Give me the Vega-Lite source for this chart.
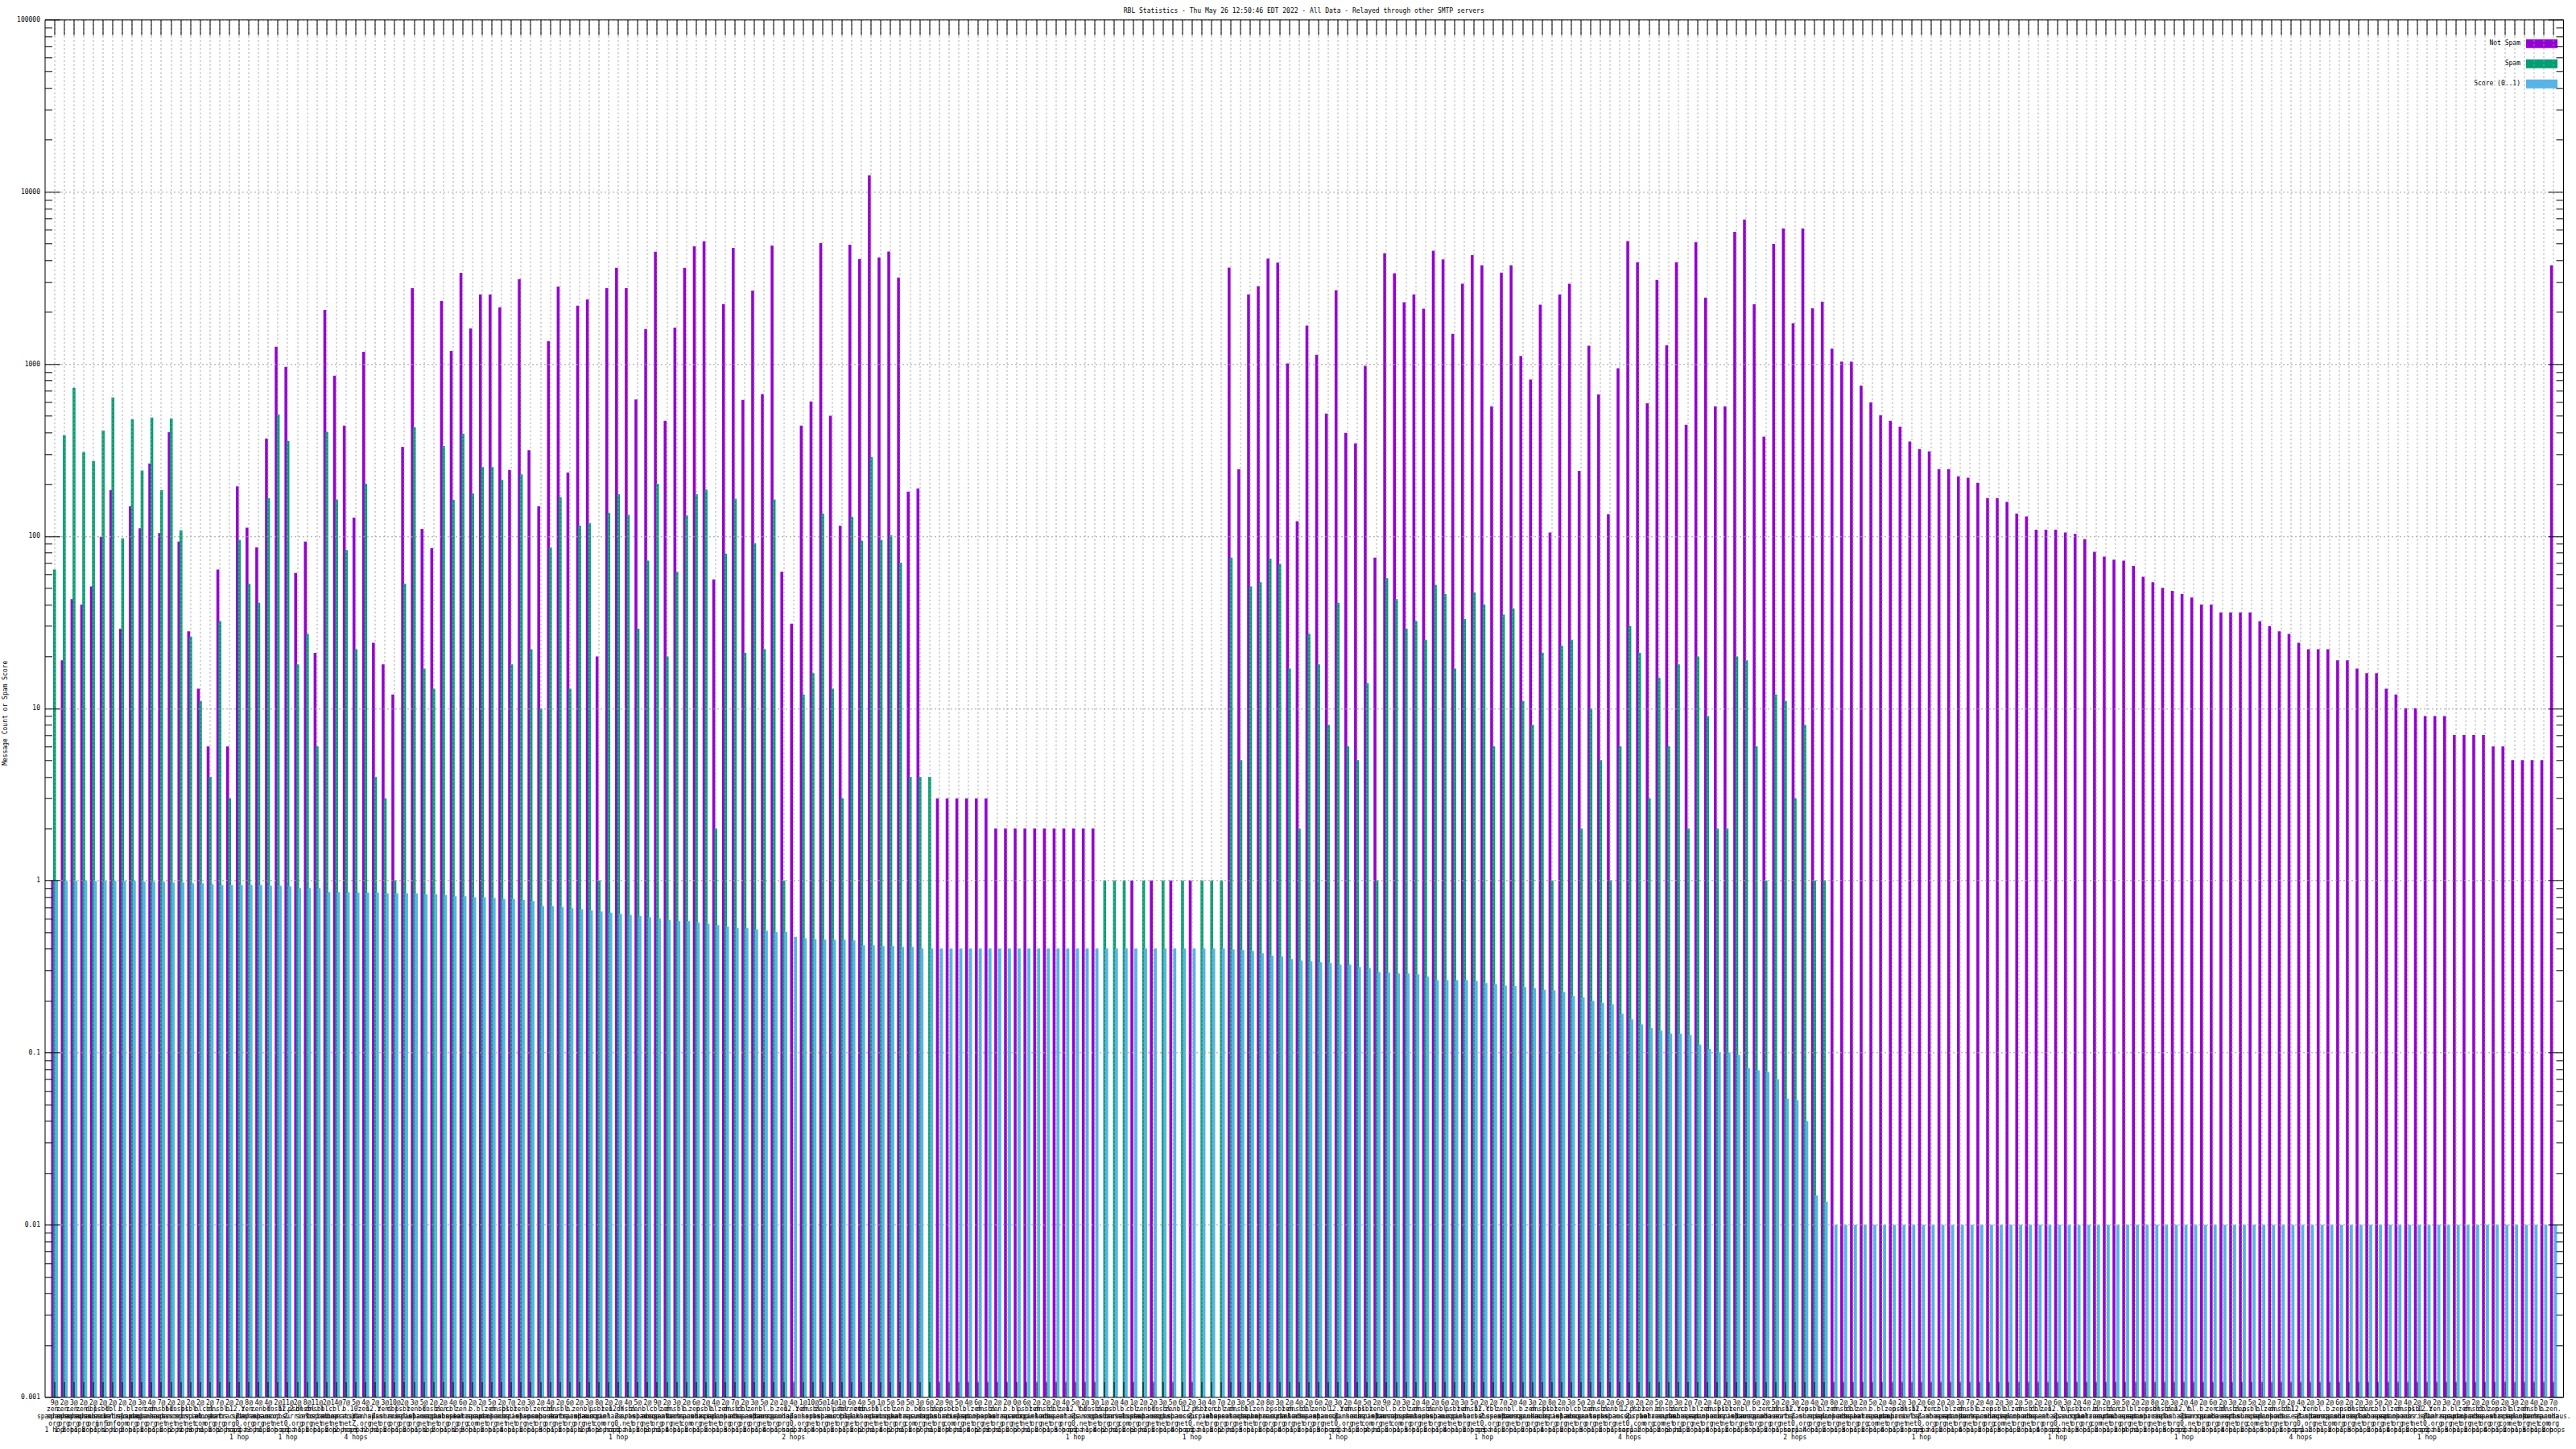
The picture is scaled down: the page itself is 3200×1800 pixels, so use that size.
{"$schema":"https://vega.github.io/schema/vega-lite/v6.json","width":3128.5,"height":1711,"autosize":{"type":"none"},"padding":{"left":55.5,"top":24.3,"right":16,"bottom":64.7},"background":"white","view":{"stroke":null},
"title":{"text":"RBL Statistics - Thu May 26 12:50:46 EDT 2022 - All Data - Relayed through other SMTP servers","font":"DejaVu Sans Mono","fontSize":8,"fontWeight":"normal","color":"black","anchor":"middle","offset":2},
"data":{"values":[
{"host":"000|9@|zen.|spamhaus.|org|1 hop","ham":1,"spam":64,"score":1},
{"host":"001|2@|zen.|spamhaus.|org|1 hop","ham":19,"spam":386,"score":0.993},
{"host":"002|3@|zen.|spamhaus.|org|2 hops","ham":43,"spam":726,"score":0.993},
{"host":"003|2@|zen.|spamhaus.|org|1 hop","ham":40,"spam":307,"score":0.993},
{"host":"004|2@|dbl.|spamhaus.|org|2 hops","ham":51,"spam":273,"score":0.993},
{"host":"005|2@|psbl.|surriel.|info|1 hop","ham":99,"spam":411,"score":0.993},
{"host":"006|2@|dbl.|surriel.|info|1 hop","ham":185,"spam":638,"score":0.993},
{"host":"007|2@|b.|barracuda.|com|1 hop","ham":29,"spam":97,"score":0.993},
{"host":"008|2@|bl.|spamcop.|org|2 hops","ham":149,"spam":477,"score":0.993},
{"host":"009|3@|zen.|spamhaus.|org|1 hop","ham":111,"spam":240,"score":0.982},
{"host":"010|4@|zen.|spamhaus.|org|2 hops","ham":264,"spam":488,"score":0.982},
{"host":"011|7@|dnsbl.|sorbs.|net|1 hop","ham":104,"spam":185,"score":0.982},
{"host":"012|2@|bl.|spamcop.|net|2 hops","ham":402,"spam":483,"score":0.972},
{"host":"013|2@|dnsbl.|sorbs.|net|2 hops","ham":93,"spam":108,"score":0.972},
{"host":"014|2@|psbl.|surriel.|net|2 hops","ham":28,"spam":26,"score":0.961},
{"host":"015|2@|bl.|spamcop.|com|3 hops","ham":13,"spam":11,"score":0.961},
{"host":"016|2@|cbl.|abuseat.|org|1 hop","ham":6,"spam":4,"score":0.951},
{"host":"017|7@|dnsbl.|sorbs.|org|2 hops","ham":64,"spam":32,"score":0.941},
{"host":"018|2@|b.|barracuda.|org|2 hops","ham":6,"spam":3,"score":0.941},
{"host":"019|2@|12.Y.|Z.|0.|arpa|1 hop","ham":194,"spam":95,"score":0.941},
{"host":"020|8@|zen.|spamhaus.|org|2 hops","ham":112,"spam":53,"score":0.941},
{"host":"021|4@|zen.|spamhaus.|org|3 hops","ham":86,"spam":41,"score":0.941},
{"host":"022|4@|bl.|spamcop.|net|1 hop","ham":369,"spam":166,"score":0.931},
{"host":"023|2@|dnsbl.|sorbs.|net|2 hops","ham":1259,"spam":509,"score":0.931},
{"host":"024|11@|12.2.|Z.|0.|arpa|1 hop","ham":961,"spam":357,"score":0.921},
{"host":"025|2@|psbl.|surriel.|org|2 hops","ham":61,"spam":18,"score":0.901},
{"host":"026|8@|dnsbl.|sorbs.|org|1 hop","ham":93,"spam":27,"score":0.901},
{"host":"027|11@|dnsbl.|sorbs.|net|2 hops","ham":21,"spam":6,"score":0.901},
{"host":"028|2@|bl.|spamcop.|net|1 hop","ham":2060,"spam":402,"score":0.854},
{"host":"029|14@|cbl.|abuseat.|net|2 hops","ham":853,"spam":163,"score":0.854},
{"host":"030|7@|b.|barracuda.|net|2 hops","ham":438,"spam":83,"score":0.854},
{"host":"031|5@|10.|Y.|Z.|arpa|4 hops","ham":128,"spam":22,"score":0.85},
{"host":"032|4@|zen.|spamhaus.|org|3 hops","ham":1175,"spam":201,"score":0.85},
{"host":"033|2@|12.Y.|Z.|net|2 hops","ham":24,"spam":4,"score":0.85},
{"host":"034|3@|zen.|spamhaus.|org|1 hop","ham":18,"spam":3,"score":0.84},
{"host":"035|10@|dbl.|surriel.|org|2 hops","ham":12,"spam":1,"score":0.84},
{"host":"036|2@|psbl.|surriel.|org|1 hop","ham":330,"spam":53,"score":0.84},
{"host":"037|3@|zen.|spamhaus.|org|2 hops","ham":2754,"spam":430,"score":0.84},
{"host":"038|5@|bl.|spamcop.|net|1 hop","ham":110,"spam":17,"score":0.83},
{"host":"039|2@|dnsbl.|sorbs.|net|1 hop","ham":85,"spam":13,"score":0.83},
{"host":"040|2@|zen.|spamhaus.|org|2 hops","ham":2317,"spam":334,"score":0.82},
{"host":"041|4@|cbl.|abuseat.|org|1 hop","ham":1189,"spam":162,"score":0.81},
{"host":"042|6@|zen.|spamhaus.|org|1 hop","ham":3377,"spam":393,"score":0.81},
{"host":"043|2@|b.|barracuda.|com|3 hops","ham":1607,"spam":177,"score":0.8},
{"host":"044|2@|bl.|spamcop.|net|1 hop","ham":2535,"spam":252,"score":0.8},
{"host":"045|5@|zen.|spamhaus.|org|2 hops","ham":2535,"spam":252,"score":0.79},
{"host":"046|2@|dnsbl.|sorbs.|net|1 hop","ham":2133,"spam":212,"score":0.78},
{"host":"047|7@|psbl.|surriel.|net|4 hops","ham":242,"spam":18,"score":0.78},
{"host":"048|2@|zen.|spamhaus.|org|1 hop","ham":3105,"spam":228,"score":0.77},
{"host":"049|3@|bl.|spamcop.|net|2 hops","ham":315,"spam":22,"score":0.76},
{"host":"050|2@|zen.|spamhaus.|org|1 hop","ham":149,"spam":10,"score":0.71},
{"host":"051|4@|cbl.|abuseat.|org|3 hops","ham":1355,"spam":86,"score":0.71},
{"host":"052|2@|dnsbl.|sorbs.|net|1 hop","ham":2812,"spam":168,"score":0.7},
{"host":"053|6@|b.|barracuda.|org|2 hops","ham":234,"spam":13,"score":0.69},
{"host":"054|2@|zen.|spamhaus.|org|1 hop","ham":2178,"spam":115,"score":0.68},
{"host":"055|3@|bl.|spamcop.|net|1 hop","ham":2366,"spam":119,"score":0.67},
{"host":"056|8@|psbl.|surriel.|com|4 hops","ham":20,"spam":1,"score":0.66},
{"host":"057|2@|zen.|spamhaus.|org|3 hops","ham":2754,"spam":136,"score":0.65},
{"host":"058|2@|12.Y.|Z.|0.|arpa|1 hop","ham":3614,"spam":175,"score":0.64},
{"host":"059|4@|dnsbl.|sorbs.|net|2 hops","ham":2754,"spam":133,"score":0.63},
{"host":"060|5@|zen.|spamhaus.|org|1 hop","ham":622,"spam":29,"score":0.62},
{"host":"061|2@|bl.|spamcop.|net|2 hops","ham":1592,"spam":72,"score":0.61},
{"host":"062|9@|cbl.|abuseat.|org|3 hops","ham":4477,"spam":201,"score":0.6},
{"host":"063|2@|zen.|spamhaus.|org|1 hop","ham":467,"spam":20,"score":0.59},
{"host":"064|3@|dnsbl.|sorbs.|net|4 hops","ham":1626,"spam":62,"score":0.58},
{"host":"065|2@|b.|barracuda.|com|1 hop","ham":3614,"spam":132,"score":0.58},
{"host":"066|6@|zen.|spamhaus.|org|2 hops","ham":4816,"spam":175,"score":0.57},
{"host":"067|2@|psbl.|surriel.|net|1 hop","ham":5152,"spam":186,"score":0.56},
{"host":"068|4@|bl.|spamcop.|net|2 hops","ham":56,"spam":2,"score":0.55},
{"host":"069|2@|zen.|spamhaus.|org|1 hop","ham":2223,"spam":79,"score":0.54},
{"host":"070|7@|dnsbl.|sorbs.|org|3 hops","ham":4714,"spam":165,"score":0.53},
{"host":"071|2@|cbl.|abuseat.|org|1 hop","ham":618,"spam":21,"score":0.53},
{"host":"072|3@|zen.|spamhaus.|org|2 hops","ham":2665,"spam":91,"score":0.52},
{"host":"073|5@|bl.|spamcop.|net|1 hop","ham":668,"spam":22,"score":0.51},
{"host":"074|2@|b.|barracuda.|org|4 hops","ham":4875,"spam":163,"score":0.5},
{"host":"075|2@|zen.|spamhaus.|org|1 hop","ham":62,"spam":1,"score":0.5},
{"host":"076|4@|12.Y.|Z.|0.|arpa|2 hops","ham":31,"score":0.47},
{"host":"077|1@|zen.|spamhaus.|org|2 hops","ham":438,"spam":12,"score":0.462},
{"host":"078|10@|dnsbl.|sorbs.|net|1 hop","ham":605,"spam":16,"score":0.457},
{"host":"079|5@|zen.|spamhaus.|org|4 hops","ham":5035,"spam":135,"score":0.453},
{"host":"080|14@|bl.|spamcop.|net|1 hop","ham":499,"spam":13,"score":0.453},
{"host":"081|1@|psbl.|surriel.|org|2 hops","ham":115,"spam":3,"score":0.453},
{"host":"082|6@|hornet.|black.|net|1 hop","ham":4920,"spam":129,"score":0.448},
{"host":"083|4@|zen.|spamhaus.|org|2 hops","ham":4064,"spam":94,"score":0.42},
{"host":"084|5@|dnsbl.|sorbs.|net|2 hops","ham":12450,"spam":288,"score":0.42},
{"host":"085|1@|bl.|spamcop.|net|1 hop","ham":4155,"spam":95,"score":0.415},
{"host":"086|5@|cbl.|abuseat.|org|4 hops","ham":4487,"spam":101,"score":0.415},
{"host":"087|5@|zen.|spamhaus.|org|2 hops","ham":3175,"spam":70,"score":0.411},
{"host":"088|5@|b.|barracuda.|com|1 hop","ham":181,"spam":4,"score":0.411},
{"host":"089|3@|bl.|spamcop.|org|2 hops","ham":189,"spam":4,"score":0.402},
{"host":"090|6@|dnsbl.|sorbs.|net|7 hops","spam":4,"score":0.402},
{"host":"091|2@|zen.|spamhaus.|org|1 hop","ham":3,"score":0.402},
{"host":"092|9@|psbl.|surriel.|com|2 hops","ham":3,"score":0.402},
{"host":"093|5@|cbl.|abuseat.|org|4 hops","ham":3,"score":0.402},
{"host":"094|4@|bl.|spamcop.|net|1 hop","ham":3,"score":0.402},
{"host":"095|6@|zen.|spamhaus.|org|4 hops","ham":3,"score":0.402},
{"host":"096|2@|dnsbl.|sorbs.|net|2 hops","ham":3,"score":0.402},
{"host":"097|2@|zen.|spamhaus.|org|3 hops","ham":2,"score":0.402},
{"host":"098|2@|b.|barracuda.|org|1 hop","ham":2,"score":0.402},
{"host":"099|0@|bl.|spamcop.|net|2 hops","ham":2,"score":0.402},
{"host":"100|6@|psbl.|surriel.|net|7 hops","ham":2,"score":0.402},
{"host":"101|2@|zen.|spamhaus.|org|1 hop","ham":2,"score":0.402},
{"host":"102|2@|dnsbl.|sorbs.|net|2 hops","ham":2,"score":0.402},
{"host":"103|2@|cbl.|abuseat.|org|1 hop","ham":2,"score":0.402},
{"host":"104|4@|zen.|spamhaus.|org|3 hops","ham":2,"score":0.402},
{"host":"105|5@|12.Y.|Z.|0.|arpa|1 hop","ham":2,"score":0.402},
{"host":"106|2@|bl.|spamcop.|net|2 hops","ham":2,"score":0.402},
{"host":"107|3@|dnsbl.|sorbs.|net|1 hop","ham":2,"score":0.402},
{"host":"108|1@|zen.|spamhaus.|org|4 hops","spam":1,"score":0.402},
{"host":"109|2@|psbl.|surriel.|org|2 hops","spam":1,"score":0.402},
{"host":"110|4@|b.|barracuda.|com|1 hop","spam":1,"score":0.402},
{"host":"111|1@|cbl.|abuseat.|org|2 hops","ham":1,"score":0.402},
{"host":"112|2@|zen.|spamhaus.|org|3 hops","spam":1,"score":0.402},
{"host":"113|2@|bl.|spamcop.|net|1 hop","ham":1,"score":0.402},
{"host":"114|3@|dnsbl.|sorbs.|net|2 hops","spam":1,"score":0.402},
{"host":"115|5@|zen.|spamhaus.|org|1 hop","ham":1,"score":0.402},
{"host":"116|6@|bl.|spamcop.|net|4 hops","spam":1,"score":0.402},
{"host":"117|2@|12.Y.|Z.|0.|arpa|1 hop","ham":1,"score":0.402},
{"host":"118|3@|psbl.|surriel.|net|2 hops","spam":1,"score":0.402},
{"host":"119|4@|zen.|spamhaus.|org|1 hop","spam":1,"score":0.402},
{"host":"120|7@|cbl.|abuseat.|org|2 hops","spam":1,"score":0.402},
{"host":"121|2@|zen.|spamhaus.|org|2 hops","ham":3624,"spam":75,"score":0.398},
{"host":"122|3@|dnsbl.|sorbs.|net|1 hop","ham":244,"spam":5,"score":0.394},
{"host":"123|5@|bl.|spamcop.|net|3 hops","ham":2535,"spam":51,"score":0.389},
{"host":"124|2@|zen.|spamhaus.|org|1 hop","ham":2831,"spam":54,"score":0.377},
{"host":"125|8@|b.|barracuda.|org|2 hops","ham":4093,"spam":74,"score":0.365},
{"host":"126|3@|psbl.|surriel.|org|1 hop","ham":3873,"spam":69,"score":0.361},
{"host":"127|2@|zen.|spamhaus.|org|4 hops","ham":1005,"spam":17,"score":0.35},
{"host":"128|4@|dnsbl.|sorbs.|net|1 hop","ham":122,"spam":2,"score":0.342},
{"host":"129|2@|cbl.|abuseat.|org|2 hops","ham":1667,"spam":27,"score":0.339},
{"host":"130|6@|zen.|spamhaus.|org|1 hop","ham":1129,"spam":18,"score":0.335},
{"host":"131|2@|bl.|spamcop.|net|3 hops","ham":514,"spam":8,"score":0.331},
{"host":"132|3@|12.Y.|Z.|0.|arpa|1 hop","ham":2679,"spam":41,"score":0.324},
{"host":"133|2@|zen.|spamhaus.|org|2 hops","ham":397,"spam":6,"score":0.324},
{"host":"134|4@|dnsbl.|sorbs.|net|1 hop","ham":346,"spam":5,"score":0.314},
{"host":"135|5@|psbl.|surriel.|com|2 hops","ham":973,"spam":14,"score":0.31},
{"host":"136|2@|zen.|spamhaus.|org|4 hops","ham":75,"spam":1,"score":0.294},
{"host":"137|9@|bl.|spamcop.|net|1 hop","ham":4392,"spam":57,"score":0.291},
{"host":"138|2@|b.|barracuda.|com|2 hops","ham":3357,"spam":43,"score":0.288},
{"host":"139|3@|cbl.|abuseat.|org|1 hop","ham":2280,"spam":29,"score":0.288},
{"host":"140|2@|zen.|spamhaus.|org|3 hops","ham":2535,"spam":32,"score":0.285},
{"host":"141|4@|dnsbl.|sorbs.|net|1 hop","ham":2089,"spam":25,"score":0.276},
{"host":"142|2@|zen.|spamhaus.|org|2 hops","ham":4539,"spam":52,"score":0.264},
{"host":"143|6@|bl.|spamcop.|net|1 hop","ham":4046,"spam":46,"score":0.264},
{"host":"144|2@|psbl.|surriel.|net|4 hops","ham":1493,"spam":17,"score":0.264},
{"host":"145|3@|zen.|spamhaus.|org|1 hop","ham":2924,"spam":33,"score":0.264},
{"host":"146|5@|dnsbl.|sorbs.|net|2 hops","ham":4276,"spam":47,"score":0.261},
{"host":"147|2@|12.Y.|Z.|0.|arpa|1 hop","ham":3740,"spam":40,"score":0.253},
{"host":"148|2@|cbl.|abuseat.|org|3 hops","ham":567,"spam":6,"score":0.25},
{"host":"149|7@|zen.|spamhaus.|org|1 hop","ham":3388,"spam":35,"score":0.245},
{"host":"150|2@|bl.|spamcop.|net|2 hops","ham":3740,"spam":38,"score":0.243},
{"host":"151|4@|b.|barracuda.|org|1 hop","ham":1110,"spam":11,"score":0.24},
{"host":"152|3@|zen.|spamhaus.|org|2 hops","ham":811,"spam":8,"score":0.237},
{"host":"153|2@|dnsbl.|sorbs.|net|1 hop","ham":2209,"spam":21,"score":0.232},
{"host":"154|8@|psbl.|surriel.|org|4 hops","ham":105,"spam":1,"score":0.23},
{"host":"155|2@|zen.|spamhaus.|org|1 hop","ham":2535,"spam":23,"score":0.225},
{"host":"156|3@|bl.|spamcop.|net|2 hops","ham":2924,"spam":25,"score":0.213},
{"host":"157|5@|cbl.|abuseat.|org|1 hop","ham":239,"spam":2,"score":0.209},
{"host":"158|2@|zen.|spamhaus.|org|3 hops","ham":1274,"spam":10,"score":0.2},
{"host":"159|4@|dnsbl.|sorbs.|net|1 hop","ham":665,"spam":5,"score":0.194},
{"host":"160|2@|zen.|spamhaus.|org|2 hops","ham":134,"spam":1,"score":0.191},
{"host":"161|6@|bl.|spamcop.|net|1 hop","ham":942,"spam":6,"score":0.168},
{"host":"162|3@|12.Y.|Z.|0.|arpa|4 hops","ham":5164,"spam":30,"score":0.156},
{"host":"163|2@|psbl.|surriel.|com|1 hop","ham":3890,"spam":21,"score":0.146},
{"host":"164|2@|zen.|spamhaus.|org|2 hops","ham":591,"spam":3,"score":0.139},
{"host":"165|5@|b.|barracuda.|com|1 hop","ham":3070,"spam":15,"score":0.134},
{"host":"166|2@|dnsbl.|sorbs.|net|2 hops","ham":1281,"spam":6,"score":0.129},
{"host":"167|3@|zen.|spamhaus.|org|3 hops","ham":3890,"spam":18,"score":0.129},
{"host":"168|2@|cbl.|abuseat.|org|1 hop","ham":443,"spam":2,"score":0.126},
{"host":"169|7@|bl.|spamcop.|net|2 hops","ham":5105,"spam":20,"score":0.111},
{"host":"170|2@|zen.|spamhaus.|org|1 hop","ham":2424,"spam":9,"score":0.105},
{"host":"171|4@|dnsbl.|sorbs.|net|4 hops","ham":567,"spam":2,"score":0.1},
{"host":"172|2@|psbl.|surriel.|net|1 hop","ham":567,"spam":2,"score":0.1},
{"host":"173|3@|zen.|spamhaus.|org|2 hops","ham":5843,"spam":20,"score":0.097},
{"host":"174|2@|bl.|spamcop.|net|1 hop","ham":6887,"spam":19,"score":0.081},
{"host":"175|6@|b.|barracuda.|org|3 hops","ham":2219,"spam":6,"score":0.079},
{"host":"176|2@|zen.|spamhaus.|org|1 hop","ham":378,"spam":1,"score":0.077},
{"host":"177|5@|cbl.|abuseat.|org|2 hops","ham":4973,"spam":12,"score":0.07},
{"host":"178|2@|dnsbl.|sorbs.|net|1 hop","ham":6124,"spam":11,"score":0.054},
{"host":"179|3@|12.Y.|Z.|0.|arpa|2 hops","ham":1722,"spam":3,"score":0.053},
{"host":"180|2@|zen.|spamhaus.|org|1 hop","ham":6124,"spam":8,"score":0.04},
{"host":"181|4@|psbl.|surriel.|org|4 hops","ham":2104,"spam":1,"score":0.0148},
{"host":"182|2@|bl.|spamcop.|net|1 hop","ham":2300,"spam":1,"score":0.0136},
{"host":"183|8@|zen.|spamhaus.|org|2 hops","ham":1229,"score":0.01},
{"host":"184|2@|dnsbl.|sorbs.|net|1 hop","ham":1030,"score":0.01},
{"host":"185|3@|cbl.|abuseat.|org|3 hops","ham":1030,"score":0.01},
{"host":"186|2@|zen.|spamhaus.|org|1 hop","ham":749,"score":0.01},
{"host":"187|5@|b.|barracuda.|com|2 hops","ham":598,"score":0.01},
{"host":"188|2@|bl.|spamcop.|net|1 hop","ham":504,"score":0.01},
{"host":"189|4@|zen.|spamhaus.|org|4 hops","ham":467,"score":0.01},
{"host":"190|2@|psbl.|surriel.|net|1 hop","ham":432,"score":0.01},
{"host":"191|3@|dnsbl.|sorbs.|net|2 hops","ham":354,"score":0.01},
{"host":"192|2@|12.Y.|Z.|0.|arpa|1 hop","ham":320,"score":0.01},
{"host":"193|6@|zen.|spamhaus.|org|3 hops","ham":310,"score":0.01},
{"host":"194|2@|cbl.|abuseat.|org|1 hop","ham":245,"score":0.01},
{"host":"195|2@|bl.|spamcop.|net|2 hops","ham":245,"score":0.01},
{"host":"196|3@|zen.|spamhaus.|org|1 hop","ham":222,"score":0.01},
{"host":"197|7@|dnsbl.|sorbs.|net|4 hops","ham":218,"score":0.01},
{"host":"198|2@|b.|barracuda.|org|1 hop","ham":204,"score":0.01},
{"host":"199|4@|zen.|spamhaus.|org|2 hops","ham":166,"score":0.01},
{"host":"200|2@|psbl.|surriel.|com|1 hop","ham":166,"score":0.01},
{"host":"201|3@|bl.|spamcop.|net|3 hops","ham":158,"score":0.01},
{"host":"202|2@|zen.|spamhaus.|org|1 hop","ham":135,"score":0.01},
{"host":"203|5@|dnsbl.|sorbs.|net|2 hops","ham":130,"score":0.01},
{"host":"204|2@|cbl.|abuseat.|org|1 hop","ham":109,"score":0.01},
{"host":"205|2@|zen.|spamhaus.|org|4 hops","ham":109,"score":0.01},
{"host":"206|6@|12.Y.|Z.|0.|arpa|1 hop","ham":109,"score":0.01},
{"host":"207|3@|bl.|spamcop.|net|2 hops","ham":105,"score":0.01},
{"host":"208|2@|psbl.|surriel.|org|1 hop","ham":103,"score":0.01},
{"host":"209|4@|zen.|spamhaus.|org|3 hops","ham":96,"score":0.01},
{"host":"210|2@|b.|barracuda.|com|1 hop","ham":81,"score":0.01},
{"host":"211|2@|dnsbl.|sorbs.|net|2 hops","ham":76,"score":0.01},
{"host":"212|3@|zen.|spamhaus.|org|1 hop","ham":73,"score":0.01},
{"host":"213|5@|cbl.|abuseat.|org|2 hops","ham":72,"score":0.01},
{"host":"214|2@|bl.|spamcop.|net|4 hops","ham":67,"score":0.01},
{"host":"215|2@|zen.|spamhaus.|org|1 hop","ham":58,"score":0.01},
{"host":"216|8@|psbl.|surriel.|net|2 hops","ham":54,"score":0.01},
{"host":"217|2@|dnsbl.|sorbs.|net|1 hop","ham":50,"score":0.01},
{"host":"218|3@|zen.|spamhaus.|org|3 hops","ham":48,"score":0.01},
{"host":"219|2@|12.Y.|Z.|0.|arpa|1 hop","ham":46,"score":0.01},
{"host":"220|4@|bl.|spamcop.|net|2 hops","ham":44,"score":0.01},
{"host":"221|2@|b.|barracuda.|org|1 hop","ham":40,"score":0.01},
{"host":"222|6@|zen.|spamhaus.|org|2 hops","ham":40,"score":0.01},
{"host":"223|2@|cbl.|abuseat.|org|1 hop","ham":36,"score":0.01},
{"host":"224|3@|dnsbl.|sorbs.|net|4 hops","ham":36,"score":0.01},
{"host":"225|2@|zen.|spamhaus.|org|1 hop","ham":36,"score":0.01},
{"host":"226|5@|psbl.|surriel.|com|2 hops","ham":36,"score":0.01},
{"host":"227|2@|bl.|spamcop.|net|1 hop","ham":32,"score":0.01},
{"host":"228|2@|zen.|spamhaus.|org|3 hops","ham":30,"score":0.01},
{"host":"229|7@|dnsbl.|sorbs.|net|1 hop","ham":28,"score":0.01},
{"host":"230|2@|cbl.|abuseat.|org|2 hops","ham":27,"score":0.01},
{"host":"231|4@|12.Y.|Z.|0.|arpa|4 hops","ham":24,"score":0.01},
{"host":"232|2@|zen.|spamhaus.|org|1 hop","ham":22,"score":0.01},
{"host":"233|3@|bl.|spamcop.|net|2 hops","ham":22,"score":0.01},
{"host":"234|2@|b.|barracuda.|com|1 hop","ham":22,"score":0.01},
{"host":"235|6@|zen.|spamhaus.|org|2 hops","ham":19,"score":0.01},
{"host":"236|2@|psbl.|surriel.|org|1 hop","ham":19,"score":0.01},
{"host":"237|2@|dnsbl.|sorbs.|net|3 hops","ham":17,"score":0.01},
{"host":"238|3@|zen.|spamhaus.|org|1 hop","ham":16,"score":0.01},
{"host":"239|5@|cbl.|abuseat.|org|2 hops","ham":16,"score":0.01},
{"host":"240|2@|bl.|spamcop.|net|1 hop","ham":13,"score":0.01},
{"host":"241|2@|zen.|spamhaus.|org|4 hops","ham":12,"score":0.01},
{"host":"242|4@|dnsbl.|sorbs.|net|1 hop","ham":10,"score":0.01},
{"host":"243|2@|psbl.|surriel.|net|2 hops","ham":10,"score":0.01},
{"host":"244|8@|12.Y.|Z.|0.|arpa|1 hop","ham":9,"score":0.01},
{"host":"245|2@|zen.|spamhaus.|org|2 hops","ham":9,"score":0.01},
{"host":"246|3@|b.|barracuda.|org|1 hop","ham":9,"score":0.01},
{"host":"247|2@|bl.|spamcop.|net|3 hops","ham":7,"score":0.01},
{"host":"248|5@|zen.|spamhaus.|org|1 hop","ham":7,"score":0.01},
{"host":"249|2@|dnsbl.|sorbs.|net|2 hops","ham":7,"score":0.01},
{"host":"250|2@|cbl.|abuseat.|org|1 hop","ham":7,"score":0.01},
{"host":"251|6@|zen.|spamhaus.|org|4 hops","ham":6,"score":0.01},
{"host":"252|2@|psbl.|surriel.|com|1 hop","ham":6,"score":0.01},
{"host":"253|3@|bl.|spamcop.|net|2 hops","ham":5,"score":0.01},
{"host":"254|2@|zen.|spamhaus.|org|1 hop","ham":5,"score":0.01},
{"host":"255|4@|dnsbl.|sorbs.|net|3 hops","ham":5,"score":0.01},
{"host":"256|2@|b.|barracuda.|com|1 hop","ham":5,"score":0.01},
{"host":"257|7@|zen.|spamhaus.|org|2 hops","ham":3740,"score":0.01}
]},
"encoding":{
"x":{"field":"host","type":"nominal","title":null,"scale":{"type":"band","paddingInner":0,"paddingOuter":0.5,"round":false}},
"color":{"scale":{"domain":["Not Spam","Spam","Score (0..1)"],"range":["#9400D3","#009E73","#56B4E9"]}}
},
"layer":[
{"mark":{"type":"bar","width":3.6,"xOffset":-2.3},
"encoding":{
"x":{"field":"host","type":"nominal","title":null,"scale":{"type":"band","paddingInner":0,"paddingOuter":0.5,"round":false},
"axis":{"orient":"bottom","ticks":false,"domain":false,"grid":false,"labelOverlap":false,"labelAngle":0,"labelFont":"DejaVu Sans Mono","labelFontSize":8,"labelColor":"black","labelBaseline":"top","labelPadding":3,"labelLineHeight":8.6,"labelLimit":0,"labelBound":false,"labelFlush":false,"labelExpr":"slice(split(datum.label,'|'),1)"}},
"y":{"field":"ham","type":"quantitative","stack":null,"title":"Message Count or Spam Score",
"scale":{"type":"log","base":10,"domain":[0.001,100000],"nice":false},
"axis":{"orient":"left","values":[0.001,0.01,0.1,1,10,100,1000,10000,100000],"format":"~g","grid":true,"gridColor":"#a0a0a0","gridDash":[2,3],"gridWidth":1,"gridOpacity":1,"tickSize":-19,"tickColor":"black","tickWidth":1,"domain":true,"domainColor":"black","domainWidth":1,"labelFont":"DejaVu Sans Mono","labelFontSize":8,"labelColor":"black","labelPadding":25,"labelOverlap":false,"labelFlush":false,"zindex":1,"titleFont":"DejaVu Sans Mono","titleFontSize":8,"titleFontWeight":"normal","titleColor":"black","titleX":-45,"titleY":861}},
"color":{"datum":"Not Spam","scale":{"domain":["Not Spam","Spam","Score (0..1)"],"range":["#9400D3","#009E73","#56B4E9"]},
"legend":{"title":null,"orient":"none","legendX":3082.5,"legendY":10.5,"fillColor":"white","padding":0,"symbolType":"M-1,-0.282H1V0.282H-1Z","symbolSize":1521,"symbolStrokeWidth":0,"symbolOpacity":1,"labelFont":"DejaVu Sans Mono","labelFontSize":8,"labelColor":"black","rowPadding":-23,"encode":{"labels":{"update":{"align":{"value":"right"},"x":{"value":-7}}}}}}
}},
{"mark":{"type":"bar","width":3.6,"xOffset":0.2},
"encoding":{
"x":{"field":"host","type":"nominal","title":null,"scale":{"type":"band","paddingInner":0,"paddingOuter":0.5,"round":false},
"axis":{"orient":"bottom","labels":false,"ticks":true,"tickSize":-19,"tickColor":"black","tickWidth":1,"domain":true,"domainColor":"black","domainWidth":1,"grid":true,"gridColor":"#a0a0a0","gridDash":[2,3],"gridWidth":1,"gridOpacity":1,"zindex":1}},
"y":{"field":"spam","type":"quantitative","stack":null,"title":null,
"axis":{"orient":"left","values":[0.002,0.003,0.004,0.005,0.006,0.007,0.008,0.009,0.02,0.03,0.04,0.05,0.06,0.07,0.08,0.09,0.2,0.3,0.4,0.5,0.6,0.7,0.8,0.9,2,3,4,5,6,7,8,9,20,30,40,50,60,70,80,90,200,300,400,500,600,700,800,900,2000,3000,4000,5000,6000,7000,8000,9000,20000,30000,40000,50000,60000,70000,80000,90000],"labels":false,"grid":false,"domain":false,"tickSize":-9,"tickColor":"black","tickWidth":1,"zindex":1}},
"color":{"datum":"Spam"}
}},
{"mark":{"type":"bar","width":3.8,"xOffset":2.6},
"encoding":{
"x":{"field":"host","type":"nominal","title":null,"scale":{"type":"band","paddingInner":0,"paddingOuter":0.5,"round":false},
"axis":{"orient":"top","labels":false,"ticks":true,"tickSize":-19,"tickColor":"black","tickWidth":1,"domain":true,"domainColor":"black","domainWidth":1,"grid":false,"zindex":1}},
"y":{"field":"score","type":"quantitative","stack":null,"title":null,
"axis":{"orient":"right","values":[0.001,0.01,0.1,1,10,100,1000,10000,100000],"labels":false,"grid":false,"domain":true,"domainColor":"black","domainWidth":1,"tickSize":-19,"tickColor":"black","tickWidth":1,"zindex":1}},
"color":{"datum":"Score (0..1)"}
}},
{"mark":{"type":"bar","width":3.8,"xOffset":2.6,"opacity":0},
"encoding":{
"x":{"field":"host","type":"nominal","title":null,"scale":{"type":"band","paddingInner":0,"paddingOuter":0.5,"round":false},"axis":null},
"y":{"field":"score","type":"quantitative","stack":null,"title":null,
"axis":{"orient":"right","values":[0.002,0.003,0.004,0.005,0.006,0.007,0.008,0.009,0.02,0.03,0.04,0.05,0.06,0.07,0.08,0.09,0.2,0.3,0.4,0.5,0.6,0.7,0.8,0.9,2,3,4,5,6,7,8,9,20,30,40,50,60,70,80,90,200,300,400,500,600,700,800,900,2000,3000,4000,5000,6000,7000,8000,9000,20000,30000,40000,50000,60000,70000,80000,90000],"labels":false,"grid":false,"domain":false,"tickSize":-9,"tickColor":"black","tickWidth":1,"zindex":1}},
"color":{"datum":"Score (0..1)"}
}}
],
"resolve":{"axis":{"x":"independent","y":"independent"},"scale":{"x":"shared","y":"shared","color":"shared"}}
}
